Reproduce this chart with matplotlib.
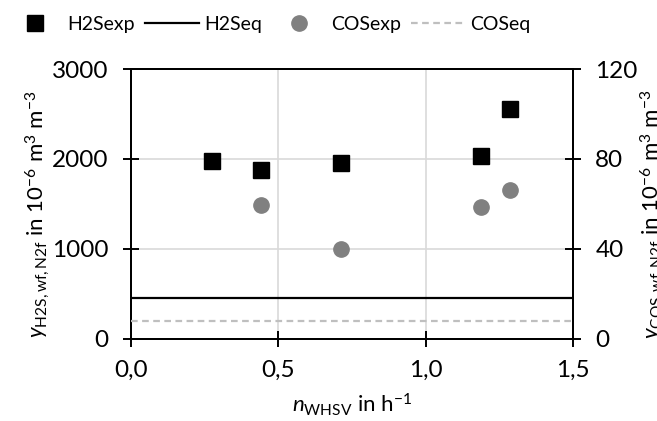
import matplotlib
matplotlib.use("Agg")
import matplotlib.pyplot as plt
from matplotlib.lines import Line2D
from matplotlib.ticker import FuncFormatter

plt.rcParams['font.family'] = ['Lato', 'DejaVu Sans']
plt.rcParams['mathtext.fontset'] = 'custom'
plt.rcParams['mathtext.rm'] = 'Lato'
plt.rcParams['mathtext.it'] = 'Lato:italic'
plt.rcParams['mathtext.bf'] = 'Lato:bold'

# data
whsv_h2s = [0.274, 0.441, 0.713, 1.189, 1.286]
h2s_exp = [1978, 1874, 1959, 2030, 2552]
whsv_cos = [0.441, 0.713, 1.189, 1.286]
cos_exp = [59.6, 40.0, 58.7, 66.4]
x_eq = [0.0, 1.5]
h2s_eq = [450, 450]
cos_eq = [8, 8]

FS = 16
TICK_FS = 17.5

fig = plt.figure(figsize=(6.57, 4.21), dpi=100)
ax = fig.add_axes([0.1994, 0.195, 0.6728, 0.641])
ax2 = ax.twinx()

ax.plot(whsv_h2s, h2s_exp, ls='none', marker='s', ms=11.5, color='black', zorder=5)
ax.plot(x_eq, h2s_eq, color='black', lw=1.6, zorder=4)
ax2.plot(whsv_cos, cos_exp, ls='none', marker='o', ms=11, color='#808080', zorder=5)
ax2.plot(x_eq, cos_eq, color='#bfbfbf', lw=1.6, ls=(0, (3, 2)), zorder=4)

ax.set_xlim(0, 1.5)
ax.set_ylim(0, 3000)
ax2.set_ylim(0, 120)
ax.set_xticks([0, 0.5, 1.0, 1.5])
ax.set_yticks([0, 1000, 2000, 3000])
ax2.set_yticks([0, 40, 80, 120])
ax.xaxis.set_major_formatter(FuncFormatter(lambda v, p: f"{v:.1f}".replace('.', ',')))

ax.grid(True, color='#d9d9d9', lw=1.2)
ax.set_axisbelow(True)

for a in (ax, ax2):
    for s in a.spines.values():
        s.set_linewidth(1.4)
        s.set_color('black')
    a.tick_params(direction='inout', length=12, width=1.4, labelsize=TICK_FS, pad=10)
ax.tick_params(axis='x', pad=9)

ax.set_xlabel(r'$\mathit{n}_{\mathrm{WHSV}}$ in h$^{-1}$', fontsize=FS, labelpad=8)
fig.text(0.058, 0.49, r'$\mathit{y}_{\mathrm{H2S,wf,N2f}}$ in 10$^{-6}$ m$^{3}$ m$^{-3}$',
         rotation=90, fontsize=FS, ha='center', va='center')
fig.text(0.971, 0.49, r'$\mathit{y}_{\mathrm{COS,wf,N2f}}$ in 10$^{-6}$ m$^{3}$ m$^{-3}$',
         rotation=90, fontsize=FS, ha='left', va='center')

handles = [
    Line2D([], [], ls='none', marker='s', ms=11.5, color='black'),
    Line2D([], [], color='black', lw=1.6),
    Line2D([], [], ls='none', marker='o', ms=11, color='#808080'),
    Line2D([], [], color='#bfbfbf', lw=1.6, ls=(0, (3, 2))),
]
labels = ['H2Sexp', 'H2Seq', 'COSexp', 'COSeq']
fig.legend(handles, labels, loc='upper center', bbox_to_anchor=(0.41, 1.0), ncol=4,
           frameon=False, fontsize=14, handlelength=2.8, handletextpad=0.26,
           columnspacing=0.5, borderaxespad=0.4)

fig.savefig('out.png', dpi=100)
